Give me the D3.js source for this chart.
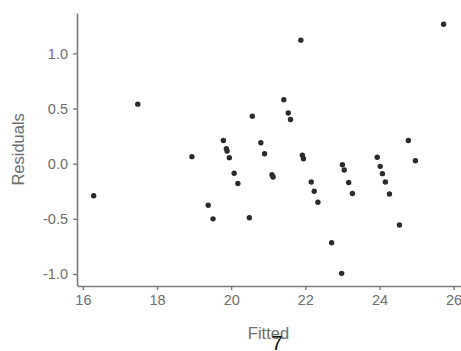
<!DOCTYPE html>
<html>
<head>
<meta charset="utf-8">
<script src="https://cdn.jsdelivr.net/npm/d3@7"></script>
<style>
  body { margin: 0; background: #fff; }
  text { font-family: "Liberation Sans", Arial, sans-serif; }
</style>
</head>
<body>
<div id="chart"></div>
<script>
// fitted values and residuals
const fitted = [16.29, 17.48, 18.94, 19.38, 19.51, 19.79, 19.87, 19.89, 19.95, 20.08,
  20.18, 20.49, 20.57, 20.80, 20.90, 21.10, 21.13, 21.42, 21.54, 21.60,
  21.88, 21.92, 21.95, 22.16, 22.24, 22.34, 22.71, 22.98, 23.00, 23.05,
  23.17, 23.27, 23.94, 24.02, 24.08, 24.16, 24.27, 24.54, 24.78, 24.97, 25.73]
const residuals = [-0.29, 0.54, 0.064, -0.377, -0.50, 0.21, 0.136, 0.115, 0.055, -0.087,
  -0.18, -0.49, 0.43, 0.19, 0.09, -0.10, -0.12, 0.58, 0.46, 0.40,
  1.12, 0.076, 0.045, -0.166, -0.25, -0.35, -0.716, -0.994, -0.009, -0.057,
  -0.17, -0.27, 0.058, -0.024, -0.09, -0.166, -0.275, -0.556, 0.21, 0.027, 1.264]
const xTicks = [16, 18, 20, 22, 24, 26]
const yTicks = [-1.0, -0.5, 0.0, 0.5, 1.0]

const width = 461
const height = 351
const margin = {top: 13, right: 0, bottom: 65, left: 77}

const points = fitted.map((f, i) => ({x: f, y: residuals[i]}))

const svg = d3.select("#chart")
  .append("svg")
  .attr("width", width)
  .attr("height", height)

const x = d3.scaleLinear()
  .domain([15.84, 26.2])
  .range([margin.left, width - margin.right])
const y = d3.scaleLinear()
  .domain([-1.104, 1.366])
  .range([height - margin.bottom - 0.5, margin.top])

const axisColor = "#7a7a7a"
const labelColor = "#6e6e6e"
// plain hyphen for negatives, like the original
const fmt = d => d3.format(".1f")(d).replace("\u2212", "-")

const xAxis = svg.append("g")
  .attr("transform", `translate(0,${height - margin.bottom})`)
  .call(d3.axisBottom(x).tickValues(xTicks).tickSize(4).tickPadding(5).tickSizeOuter(0))
const yAxis = svg.append("g")
  .attr("transform", `translate(${margin.left},0)`)
  .call(d3.axisLeft(y).tickValues(yTicks).tickSize(4).tickPadding(5).tickSizeOuter(0)
    .tickFormat(fmt))

for (const ax of [xAxis, yAxis]) {
  ax.select(".domain").attr("stroke", axisColor).attr("stroke-width", 1.6)
  ax.selectAll(".tick line").attr("stroke", axisColor).attr("stroke-width", 1.4)
  ax.selectAll(".tick text")
    .attr("fill", labelColor)
    .style("font-size", "14.5px")
    .style("font-family", "Liberation Sans, Arial, sans-serif")
}

svg.append("g")
  .selectAll("circle")
  .data(points)
  .enter()
  .append("circle")
  .attr("cx", d => x(d.x))
  .attr("cy", d => y(d.y))
  .attr("r", 2.7)
  .attr("fill", "#2b2b2b")

svg.append("text")
  .text("Residuals")
  .attr("transform", `translate(24,${y(0.13)}) rotate(-90)`)
  .attr("text-anchor", "middle")
  .attr("fill", labelColor)
  .style("font-size", "16.5px")

svg.append("text")
  .text("Fitted")
  .attr("x", 268.5)
  .attr("y", 339)
  .attr("text-anchor", "middle")
  .attr("fill", labelColor)
  .style("font-size", "16.5px")

// stray "7" that sits over the axis title in the original
svg.append("text")
  .text("7")
  .attr("x", 277)
  .attr("y", 349.5)
  .attr("text-anchor", "middle")
  .attr("fill", "#111")
  .style("font-size", "20px")
</script>
</body>
</html>
